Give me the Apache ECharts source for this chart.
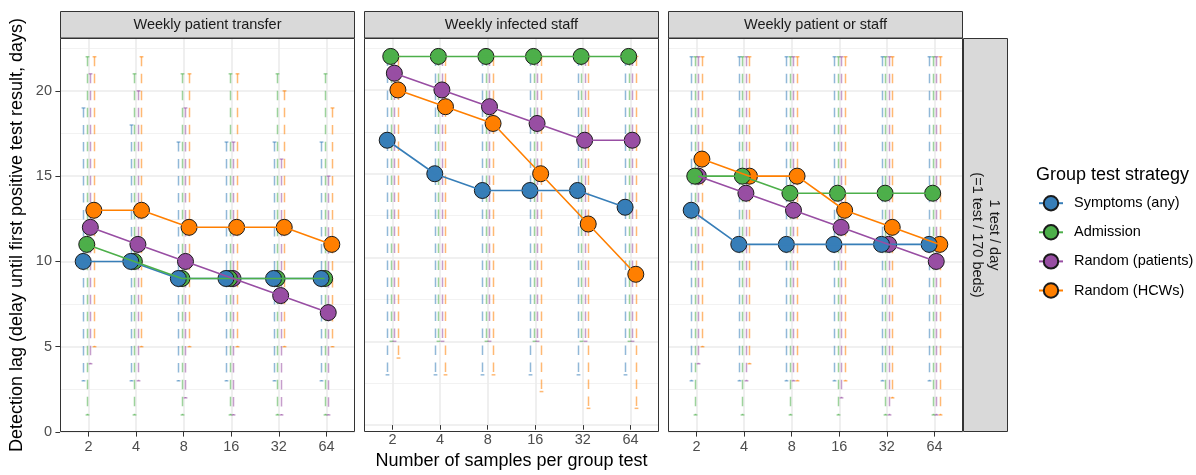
<!DOCTYPE html>
<html><head><meta charset="utf-8">
<script src="https://cdn.jsdelivr.net/npm/echarts@6/dist/echarts.min.js"></script>
<style>html,body{margin:0;padding:0;background:#fff}#c{width:1196px;height:475px}</style>
</head><body><div id="c"></div>
<script>
// ---------------- data ----------------
const categories = ['2', '4', '8', '16', '32', '64'];
const strategies = ['Symptoms (any)', 'Admission', 'Random (patients)', 'Random (HCWs)'];
const panelTitles = ['Weekly patient transfer', 'Weekly infected staff', 'Weekly patient or staff'];
const rowLabel = ['1 test / day', '(=1 test / 170 beds)'];
const yTicks = [0, 5, 10, 15, 20];
const yMinor = [2.5, 7.5, 12.5, 17.5, 22.5];

// rows: Symptoms, Admission, Random (patients), Random (HCWs)
const transferMedian = [[10,10,9,9,9,9],[11,10,9,9,9,9],[12,11,10,9,8,7],[13,13,12,12,12,11]];
const transferLow    = [[3,3,3,3,3,3],[1,1,1,1,1,1],[4,3,2,1,1,1],[5,5,5,5,5,5]];
const transferHigh   = [[19,18,17,17,17,17],[22,21,21,21,21,21],[21,20,19,17,16,15],[22,22,21,21,20,19]];

const staffMedian = [[17,15,14,14,14,13],[22,22,22,22,22,22],[21,20,19,18,17,17],[20,19,18,15,12,9]];
const staffLow    = [[3,3,3,3,3,3],[5,5,5,5,5,5],[5,5,5,5,5,5],[4,3,3,2,1,1]];
const staffHigh   = [[22,22,22,22,22,22],[22,22,22,22,22,22],[22,22,22,22,22,22],[22,22,22,22,22,22]];

const eitherMedian = [[13,11,11,11,11,11],[15,15,14,14,14,14],[15,14,13,12,11,10],[16,15,15,13,12,11]];
const eitherLow    = [[3,3,3,3,3,3],[1,1,1,1,1,1],[4,3,3,2,1,1],[5,4,3,3,2,1]];
const eitherHigh   = [[22,22,22,22,22,22],[22,22,22,22,22,22],[22,22,22,22,22,22],[22,22,22,22,22,22]];

// ---------------- layout / style ----------------
const colors = ['#377EB8', '#4DAF4A', '#984EA3', '#FF7F00'];
const panels = [
  {median: transferMedian, low: transferLow, high: transferHigh},
  {median: staffMedian, low: staffLow, high: staffHigh},
  {median: eitherMedian, low: eitherLow, high: eitherHigh}
];
const gridLefts = [60, 364, 668];
const gridW = 295, gridTop = 38, gridH = 394;
const dodge = [-0.1125, -0.0375, 0.0375, 0.1125];
const capHalf = 0.04;
const catIdx = categories.map((c, i) => i + 1);
const FONT = '"Liberation Sans", Arial, Helvetica, sans-serif';

const grids = [], xAxes = [], yAxes = [], series = [], graphics = [];

panels.forEach((p, i) => {
  grids.push({left: gridLefts[i], top: gridTop, width: gridW, height: gridH, show: false});
  xAxes.push({
    type: 'value', gridIndex: i, min: 0.4, max: 6.6,
    axisLine: {show: false},
    axisTick: {show: true, customValues: catIdx, length: 4.6, lineStyle: {color: '#333', width: 1}},
    axisLabel: {customValues: catIdx, formatter: v => categories[Math.round(v) - 1],
      color: '#4D4D4D', fontSize: 14.5, margin: 7, fontFamily: FONT},
    splitLine: {show: true, lineStyle: {color: '#EBEBEB', width: 1.6}},
    name: i === 1 ? 'Number of samples per group test' : '',
    nameLocation: 'middle', nameGap: 23,
    nameTextStyle: {fontSize: 18, color: '#000', fontFamily: FONT}
  });
  yAxes.push({
    type: 'value', gridIndex: i, min: 0, max: 23.1,
    axisLine: {show: false},
    axisTick: {show: i === 0, customValues: yTicks, length: 4.6, lineStyle: {color: '#333', width: 1}},
    axisLabel: {show: i === 0, customValues: yTicks, color: '#4D4D4D', fontSize: 14.5, margin: 8, fontFamily: FONT},
    splitLine: {show: true, lineStyle: {color: '#EBEBEB', width: 1.6}},
    name: i === 0 ? 'Detection lag (delay until first positive test result, days)' : '',
    nameLocation: 'middle', nameGap: 34, nameRotate: 90,
    nameTextStyle: {fontSize: 18, color: '#000', fontFamily: FONT}
  });
  yAxes.push({
    type: 'value', gridIndex: i, min: 0, max: 23.1, position: 'left',
    axisLine: {show: false},
    axisTick: {show: false, customValues: yMinor},
    axisLabel: {show: false, customValues: yMinor},
    splitLine: {show: true, lineStyle: {color: '#EFEFEF', width: 0.8}}
  });

  // error bars
  strategies.forEach((s, k) => {
    const data = catIdx.map((c, j) => [c + dodge[k], p.low[k][j], p.high[k][j]]);
    series.push({
      type: 'custom', name: s + ' range', xAxisIndex: i, yAxisIndex: 2 * i, silent: true,
      encode: {x: 0, y: [1, 2]}, data: data, clip: false,
      renderItem: function (params, api) {
        const x = api.value(0), lo = api.value(1), hi = api.value(2);
        const top = api.coord([x, hi]);
        const bot = api.coord([x, lo]);
        const hw = api.coord([x + capHalf, hi])[0] - top[0];
        const px = Math.round(top[0]) + 0.5;
        const st = {stroke: colors[k], lineWidth: 1.5, opacity: 0.55};
        return {type: 'group', children: [
          {type: 'line', shape: {x1: px, y1: top[1], x2: px, y2: bot[1]},
           style: Object.assign({lineDash: [9.5, 7.5]}, st)},
          {type: 'line', shape: {x1: px - hw, y1: top[1], x2: px + hw, y2: top[1]}, style: st},
          {type: 'line', shape: {x1: px - hw, y1: bot[1], x2: px + hw, y2: bot[1]}, style: st}
        ]};
      }
    });
  });
  // lines
  strategies.forEach((s, k) => {
    series.push({
      type: 'line', name: s, xAxisIndex: i, yAxisIndex: 2 * i, silent: true,
      data: catIdx.map((c, j) => [c + dodge[k], p.median[k][j]]),
      showSymbol: false, symbol: 'circle', symbolSize: 16,
      lineStyle: {color: colors[k], width: 1.6},
      itemStyle: {color: colors[k], borderColor: '#1a1a1a', borderWidth: 1}
    });
  });
  // points (drawn orange first, blue last)
  [3, 2, 1, 0].forEach(k => {
    series.push({
      type: 'scatter', name: strategies[k], xAxisIndex: i, yAxisIndex: 2 * i, silent: true,
      data: catIdx.map((c, j) => [c + dodge[k], p.median[k][j]]),
      symbol: 'circle', symbolSize: 16,
      itemStyle: {color: colors[k], borderColor: '#1a1a1a', borderWidth: 1, opacity: 1}
    });
  });

  // strip + border
  graphics.push({type: 'rect', z: 100,
    shape: {x: gridLefts[i] + 0.5, y: 11.5, width: gridW - 1, height: gridTop - 11.5},
    style: {fill: '#D9D9D9', stroke: '#333', lineWidth: 1}});
  graphics.push({type: 'text', z: 101, x: gridLefts[i] + gridW / 2, y: 25,
    style: {text: panelTitles[i], align: 'center', verticalAlign: 'middle',
      fontSize: 14.5, fill: '#1A1A1A', fontFamily: FONT}});
  graphics.push({type: 'rect', z: 100,
    shape: {x: gridLefts[i] + 0.5, y: gridTop + 0.5, width: gridW - 1, height: gridH - 1},
    style: {fill: 'none', stroke: '#333', lineWidth: 1}});
});

// right strip
graphics.push({type: 'rect', z: 100,
  shape: {x: 963.5, y: gridTop + 0.5, width: 44, height: gridH - 1},
  style: {fill: '#D9D9D9', stroke: '#333', lineWidth: 1}});
graphics.push({type: 'text', z: 101, x: 985, y: gridTop + gridH / 2, rotation: -Math.PI / 2,
  style: {text: rowLabel.join('\n'), align: 'center', verticalAlign: 'middle',
    fontSize: 14.5, lineHeight: 17, fill: '#1A1A1A', fontFamily: FONT}});
// legend title
graphics.push({type: 'text', z: 101, x: 1036, y: 175,
  style: {text: 'Group test strategy', align: 'left', verticalAlign: 'middle',
    fontSize: 18, fill: '#000', fontFamily: FONT}});

const chart = echarts.init(document.getElementById('c'), null, {renderer: 'canvas'});
chart.setOption({
  animation: false,
  backgroundColor: '#fff',
  textStyle: {fontFamily: FONT},
  grid: grids,
  xAxis: xAxes,
  yAxis: yAxes,
  legend: {
    data: strategies, orient: 'vertical', left: 1038, top: 195, padding: 0,
    itemWidth: 24, itemHeight: 18, itemGap: 12.7,
    textStyle: {fontSize: 14.5, color: '#000', fontFamily: FONT, padding: [0, 0, 0, 6]},
    selectedMode: false
  },
  graphic: graphics,
  series: series
});
</script></body></html>
